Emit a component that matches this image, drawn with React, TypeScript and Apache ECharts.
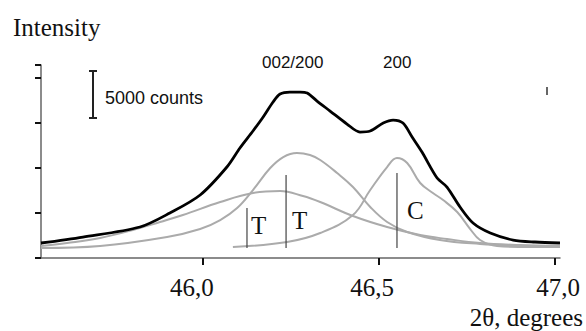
import React, { useEffect, useRef } from "react";
import * as echarts from "echarts";

// X axis (2θ, degrees)
const tickValues = [46.0, 46.5, 47.0];
const tickLabels = ["46,0", "46,5", "47,0"];

// Measured total profile (black)
const totalX = [45.540, 45.659, 45.821, 45.906, 45.992, 46.068, 46.105, 46.142, 46.171, 46.199, 46.219, 46.247, 46.276, 46.296, 46.324, 46.361, 46.409, 46.446, 46.475, 46.512, 46.540, 46.568, 46.594, 46.622, 46.665, 46.693, 46.730, 46.767, 46.816, 46.881, 46.943, 47.014];
const totalY = [1667, 2333, 3444, 5000, 7000, 10111, 12222, 14111, 15667, 17333, 18222, 18444, 18444, 18333, 17444, 16333, 14889, 14000, 14111, 15000, 15333, 15000, 13444, 11778, 8889, 7889, 5667, 3889, 2778, 2000, 1778, 1667];

// Broad tetragonal component (gray)
const broadX = [45.540, 45.614, 45.708, 45.801, 45.878, 45.943, 46.049, 46.142, 46.219, 46.284, 46.333, 46.426, 46.523, 46.617, 46.693, 46.787, 46.901, 47.014];
const broadY = [1333, 1667, 2222, 3111, 4000, 4778, 6222, 7222, 7444, 6889, 6222, 4667, 3444, 2556, 2111, 1667, 1444, 1333];

// Tall tetragonal component (gray)
const tallX = [45.540, 45.708, 45.898, 45.992, 46.049, 46.097, 46.142, 46.191, 46.228, 46.267, 46.304, 46.333, 46.381, 46.426, 46.475, 46.523, 46.580, 46.673, 46.787, 46.901, 47.014];
const tallY = [1111, 1333, 2333, 3222, 4222, 5556, 7556, 10000, 11222, 11667, 11444, 10889, 9444, 7889, 5667, 4000, 2889, 2000, 1556, 1333, 1222];

// Cubic component (gray)
const cubicX = [46.085, 46.239, 46.333, 46.426, 46.475, 46.523, 46.551, 46.580, 46.617, 46.653, 46.682, 46.722, 46.759, 46.787, 46.835, 46.929, 47.014];
const cubicY = [1222, 1778, 2778, 4778, 7556, 10111, 11111, 10556, 8333, 7222, 6444, 5111, 3222, 2000, 1333, 1222, 1222];

// Peak position markers
const markerX = [46.125, 46.236, 46.551];
const markerTop = [5556, 9222, 9444];
const markerBase = 1111;
const markerLabels = ["T", "T", "C"];

const peakLabels = ["002/200", "200"];
const scaleLabel = "5000 counts";

const pairs = (xs: number[], ys: number[]) => xs.map((x, i) => [x, ys[i]]);

export default function App() {
  const ref = useRef<HTMLDivElement>(null);
  useEffect(() => {
    const chart = echarts.init(ref.current!, null, { renderer: "svg" });
    const serif = "Liberation Serif";
    const sans = "Liberation Sans";
    const gray = { color: "#ababab", width: 2 };
    const labelOffsets = [
      [0, 22, 0, 0],
      [0, 14, 0, 0],
      [0, 0, 0, 6],
    ];
    const rich: any = {};
    labelOffsets.forEach((p, i) => {
      rich["l" + i] = { padding: p, fontSize: 25, fontFamily: serif, color: "#111" };
    });
    const series: any[] = [
      { type: "line", data: pairs(broadX, broadY), smooth: 0.4, showSymbol: false, lineStyle: gray, z: 2 },
      { type: "line", data: pairs(tallX, tallY), smooth: 0.4, showSymbol: false, lineStyle: gray, z: 2 },
      { type: "line", data: pairs(cubicX, cubicY), smooth: 0.4, showSymbol: false, lineStyle: gray, z: 2 },
      { type: "line", data: pairs(totalX, totalY), smooth: 0.3, showSymbol: false, lineStyle: { color: "#000", width: 2.8 }, z: 3 },
    ];
    markerX.forEach((x, i) => {
      series.push({
        type: "line",
        data: [[x, markerBase], [x, markerTop[i]]],
        showSymbol: false,
        lineStyle: { color: "#444", width: 1.2 },
        z: 4,
      });
    });
    chart.setOption({
      animation: false,
      grid: { left: 41, right: 26, top: 65, bottom: 73 },
      xAxis: {
        type: "value",
        min: 45.54,
        max: 47.014,
        splitLine: { show: false },
        axisLine: { lineStyle: { color: "#666", width: 1.5 } },
        axisTick: { customValues: tickValues, length: 7, lineStyle: { color: "#111", width: 2 } },
        axisLabel: {
          customValues: tickValues,
          margin: 17,
          formatter: (v: number) => {
            const i = tickValues.findIndex((t) => Math.abs(t - v) < 1e-6);
            return i >= 0 ? `{l${i}|${tickLabels[i]}}` : "";
          },
          rich,
          fontSize: 25,
          fontFamily: serif,
          color: "#111",
        },
      },
      yAxis: {
        type: "value",
        min: 0,
        max: 21450,
        interval: 5000,
        splitLine: { show: false },
        axisLine: { show: true, lineStyle: { color: "#666", width: 1.5 } },
        axisTick: { show: true, inside: false, length: 6, lineStyle: { color: "#111", width: 2 } },
        axisLabel: { show: false },
      },
      series,
      graphic: [
        { type: "text", left: 13, top: 15, style: { text: "Intensity", font: `25px ${serif}`, fill: "#111" } },
        { type: "text", right: 3, top: 305, style: { text: "2θ, degrees", font: `25px ${serif}`, fill: "#111" } },
        { type: "text", left: 262, top: 54, style: { text: peakLabels[0], font: `17px ${sans}`, fill: "#111" } },
        { type: "text", left: 383, top: 54, style: { text: peakLabels[1], font: `17px ${sans}`, fill: "#111" } },
        { type: "line", shape: { x1: 93, y1: 71, x2: 93, y2: 118 }, style: { stroke: "#222", lineWidth: 2 } },
        { type: "line", shape: { x1: 89, y1: 71, x2: 97, y2: 71 }, style: { stroke: "#222", lineWidth: 2 } },
        { type: "line", shape: { x1: 89, y1: 118, x2: 97, y2: 118 }, style: { stroke: "#222", lineWidth: 2 } },
        { type: "text", left: 105, top: 89, style: { text: scaleLabel, font: `18px ${sans}`, fill: "#111" } },
        { type: "text", left: 251, top: 213, style: { text: markerLabels[0], font: `25px ${serif}`, fill: "#111" } },
        { type: "text", left: 292, top: 208, style: { text: markerLabels[1], font: `25px ${serif}`, fill: "#111" } },
        { type: "text", left: 407, top: 198, style: { text: markerLabels[2], font: `25px ${serif}`, fill: "#111" } },
        { type: "line", shape: { x1: 547, y1: 87, x2: 547, y2: 95 }, style: { stroke: "#333", lineWidth: 1.5 } },
      ],
    });
    return () => chart.dispose();
  }, []);
  return <div ref={ref} style={{ position: "absolute", left: 0, top: 0, width: 586, height: 331 }} />;
}
